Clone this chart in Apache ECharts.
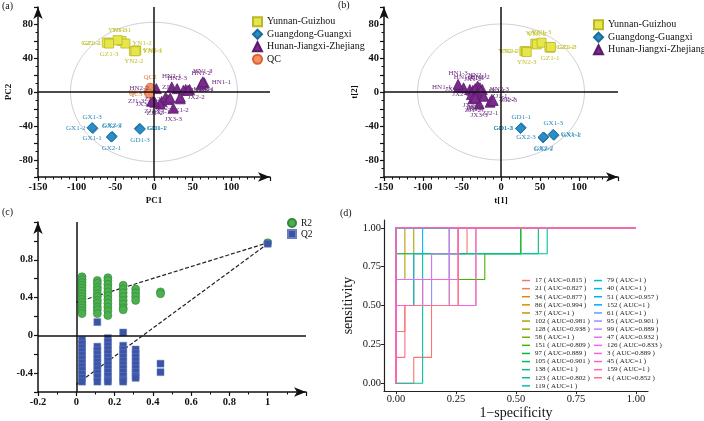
<!DOCTYPE html>
<html><head><meta charset="utf-8">
<script src="https://cdn.jsdelivr.net/npm/echarts@6/dist/echarts.min.js"></script>
<style>html,body{margin:0;padding:0;background:#fff}#c{width:704px;height:421px}</style>
</head><body><div id="c"></div>
<script>
// ================= DATA =================
// Panel (a) PCA scores
const ygNames = ['YN1-1','YN1-2','YN1-3','YN2-1','YN2-2','YN2-3','GZ1-1','GZ1-2','GZ1-3'];
const aYG_PC1 = [-42,-37,-47,-23,-26,-24,-59,-61,-58];
const aYG_PC2 = [60,57,61,49,48,48,58,58,57];
const ggNames = ['GD1-1','GD1-2','GD1-3','GX1-1','GX1-2','GX1-3','GX2-1','GX2-2','GX2-3'];
const aGG_PC1 = [-19,-18,-18,-80,-79,-80,-55,-54,-55];
const aGG_PC2 = [-43,-43,-44,-42,-43,-42,-53,-52,-53];
const hjzNames = ['HN1-1','HN1-2','HN1-3','HN2-1','HN2-2','HN2-3','JX1-1','JX1-2','JX1-3','JX2-1','JX2-2','JX2-3','JX3-1','JX3-2','JX3-3','ZJ1-1','ZJ1-2','ZJ1-3','ZJ2-1','ZJ2-2','ZJ2-3'];
const aHJZ_PC1 = [65,61,63,23,3,30,41,34,38,46,34,44,10,8,25,-2,1,-3,15,18,21];
const aHJZ_PC2 = [11,9,12,6,4,4,3,-8,2,3,-6,2,-11,-14,-19,-10,-12,-11,-6,-9,-7];
const qcNames = ['QC1','QC2','QC3'];
const aQC_PC1 = [-7,-5,-6];
const aQC_PC2 = [0,5,-2];

// Panel (b) OPLS-DA scores
const bYG_t1 = [44,46,52,30,32,33,63,62,64];
const bYG_t2 = [57,56,58,48,48,47,52,53,53];
const bGG_t1 = [26,25,25,67,68,67,54,55,54];
const bGG_t2 = [-42,-43,-43,-50,-51,-50,-54,-53,-53];
const bHJZ_t1 = [-54,-48,-55,-30,-27,-24,-40,-36,-33,-26,-31,-38,-32,-34,-28,-22,-36,-33,-14,-12,-10];
const bHJZ_t2 = [6,5,9,7,5,3,3,2,4,1,-2,-3,-5,-6,-14,-5,-8,-7,-12,-9,-10];

// Panel (c) permutation test
const permCorr = [0.03, 0.11, 0.165, 0.245, 0.31, 0.44, 1];
const r2Cols = [
  [0.62,0.59,0.56,0.53,0.50,0.47,0.44,0.41,0.38,0.35,0.32,0.29,0.26,0.23],
  [0.58,0.55,0.51,0.48,0.44,0.41,0.37,0.34,0.30,0.27,0.23],
  [0.61,0.58,0.54,0.50,0.46,0.42,0.38,0.34,0.30,0.26,0.21],
  [0.53,0.49,0.45,0.41,0.37,0.33,0.29,0.27],
  [0.49,0.45,0.41,0.37],
  [0.46,0.44],
  [0.98]
];
const q2Cols = [
  [-0.05,-0.09,-0.13,-0.17,-0.21,-0.25,-0.29,-0.33,-0.37,-0.41,-0.45,-0.49],
  [0.14,-0.12,-0.16,-0.20,-0.24,-0.28,-0.32,-0.36,-0.40,-0.44,-0.49],
  [-0.03,-0.07,-0.11,-0.15,-0.19,-0.23,-0.27,-0.31,-0.35,-0.39,-0.43,-0.47,-0.49],
  [0.03,-0.11,-0.15,-0.19,-0.23,-0.27,-0.31,-0.35,-0.39,-0.43,-0.47,-0.49],
  [-0.15,-0.19,-0.23,-0.27,-0.31,-0.35,-0.39,-0.43,-0.45],
  [-0.30,-0.39],
  [0.97]
];
const r2LineX = [0, 1], r2LineY = [0.35, 0.98];
const q2LineX = [0, 1], q2LineY = [-0.52, 0.97];

// Panel (d) ROC curves
const rocMarkers = ['17','21','34','86','37','102','128','58','151','97','105','138','123','119','79','40','51','152','61','95','99','47','126','3','45','159','4'];
const rocAUC = ['0.815','0.827','0.877','0.994','1','0.981','0.938','1','0.809','0.889','0.901','1','0.802','1','1','1','0.957','1','1','0.901','0.889','0.932','0.833','0.889','1','1','0.852'];
const P = [[0,0,1],[0,1,1]];
const rocCurves = [
  [[0,0.074,0.074,0.148,0.148,0.259,0.259,0.296,0.296,1],[0,0,0.167,0.167,0.5,0.5,0.833,0.833,1,1]],
  [[0,0,0.037,0.037,0.333,0.333,1],[0,0.333,0.333,0.5,0.5,1,1]],
  [[0,0,0.222,0.222,0.259,0.259,1],[0,0.5,0.5,0.833,0.833,1,1]],
  [[0,0,0.037,0.037,1],[0,0.833,0.833,1,1]],
  P,
  [[0,0,0.037,0.037,0.074,0.074,1],[0,0.667,0.667,0.833,0.833,1,1]],
  [[0,0,0.074,0.074,0.222,0.222,1],[0,0.5,0.5,0.833,0.833,1,1]],
  P,
  [[0,0,0.148,0.148,0.37,0.37,0.52,0.52,1],[0,0.5,0.5,0.667,0.667,0.833,0.833,1,1]],
  [[0,0,0.148,0.148,0.52,0.52,1],[0,0.667,0.667,0.833,0.833,1,1]],
  [[0,0,0.593,0.593,1],[0,0.833,0.833,1,1]],
  P,
  [[0,0.111,0.111,0.63,0.63,1],[0,0,0.833,0.833,1,1]],
  P, P, P,
  [[0,0,0.074,0.074,0.111,0.111,1],[0,0.5,0.5,0.833,0.833,1,1]],
  P, P,
  [[0,0,0.148,0.148,0.222,0.222,1],[0,0.5,0.5,0.667,0.667,1,1]],
  [[0,0,0.222,0.222,1],[0,0.5,0.5,1,1]],
  [[0,0,0.148,0.148,0.259,0.259,1],[0,0.667,0.667,0.833,0.833,1,1]],
  [[0,0,0.333,0.333,1],[0,0.5,0.5,1,1]],
  [[0,0,0.111,0.111,0.259,0.259,1],[0,0.5,0.5,0.667,0.667,1,1]],
  P, P,
  [[0,0,0.037,0.037,0.259,0.259,1],[0,0.167,0.167,0.5,0.5,1,1]]
];

// ================= STYLE =================
const SERIF = '"Liberation Serif","Times New Roman",serif';
const ygPosA = ['top','right','top','right','bottom','right','left','left','bottom'];
const ggPosA = ['right','right','bottom','bottom','left','top','bottom','top','top'];
const hjzPosA = ['right','top','top','top','left','top','right','bottom','right','right','right','right','bottom','left','bottom','bottom','bottom','left','bottom','left','top'];
const qcPosA = ['left','top','left'];
const ygPosB = ['top','top','top','left','left','bottom','bottom','right','right'];
const ggPosB = ['top','left','left','right','right','top','bottom','bottom','left'];
const hjzPosB = ['left','top','top','top','top','right','left','top','top','right','left','bottom','bottom','bottom','bottom','right','bottom','bottom','bottom','right','right'];

function hcl(h, c, l) {
  const hr = h * Math.PI / 180;
  const U = c * Math.cos(hr), V = c * Math.sin(hr);
  const Xn = 95.047, Yn = 100, Zn = 108.883;
  const Y = l > 8 ? Yn * Math.pow((l + 16) / 116, 3) : Yn * l / 903.3;
  const den = Xn + 15 * Yn + 3 * Zn;
  const un = 4 * Xn / den, vn = 9 * Yn / den;
  const up = U / (13 * l) + un, vp = V / (13 * l) + vn;
  const X = Y * 9 * up / (4 * vp), Z = Y * (12 - 3 * up - 20 * vp) / (4 * vp);
  const x = X / 100, y = Y / 100, z = Z / 100;
  const r = 3.2404542 * x - 1.5371385 * y - 0.4985314 * z;
  const g = -0.9692660 * x + 1.8760108 * y + 0.0415560 * z;
  const b = 0.0556434 * x - 0.2040259 * y + 1.0572252 * z;
  const gm = t => { t = t <= 0.0031308 ? 12.92 * t : 1.055 * Math.pow(t, 1 / 2.4) - 0.055; return Math.round(Math.max(0, Math.min(1, t)) * 255); };
  return 'rgb(' + gm(r) + ',' + gm(g) + ',' + gm(b) + ')';
}

const GROUPS = {
  'Yunnan-Guizhou': {symbol: 'rect', size: 9, color: '#E6E64A', border: '#B9B928', text: '#C2C22C'},
  'Guangdong-Guangxi': {symbol: 'diamond', size: 10, color: '#2B8DC6', border: '#1B6C9C', text: '#2A8AB6'},
  'Hunan-Jiangxi-Zhejiang': {symbol: 'triangle', size: 10, color: '#7A2B8C', border: '#5B1A6C', text: '#6A2A7C'},
  'QC': {symbol: 'circle', size: 9, color: '#F29068', border: '#E0602A', text: '#D8783E'}
};

function pts(names, xs, ys, pos) {
  return names.map((n, i) => ({name: n, value: [xs[i], ys[i]], label: {position: pos[i]}}));
}
function scatter(name, gi, data) {
  const g = GROUPS[name];
  return {
    type: 'scatter', name, xAxisIndex: gi, yAxisIndex: gi, data,
    symbol: g.symbol, symbolSize: g.size,
    itemStyle: {color: g.color, borderColor: g.border, borderWidth: 0.8, opacity: 1},
    label: {show: true, formatter: '{b}', fontFamily: SERIF, fontSize: 7, color: g.text, distance: 2},
    labelLayout: {hideOverlap: false},
    emphasis: {disabled: true}, z: 3
  };
}
const cross = {
  silent: true, symbol: 'none', label: {show: false}, animation: false,
  lineStyle: {color: '#111', width: 1.5, type: 'solid'},
  data: [{xAxis: 0}, {yAxis: 0}]
};

function axisBase(extra) {
  return Object.assign({
    type: 'value', splitLine: {show: false},
    axisLine: {onZero: false, lineStyle: {color: '#111', width: 1.5}, symbol: ['none', 'arrow'], symbolSize: [7, 12]},
    axisTick: {length: 4, lineStyle: {color: '#111', width: 1.2}},
    axisLabel: {fontFamily: SERIF, fontWeight: 'bold', fontSize: 10.5, color: '#111', margin: 5},
    nameTextStyle: {fontFamily: SERIF, fontWeight: 'bold', fontSize: 9, color: '#111'},
    nameLocation: 'middle'
  }, extra);
}
function pcaX(gi, name) {
  const a = axisBase({gridIndex: gi, min: -150, max: 150, interval: 50, name, nameGap: 19,
    minorTick: {show: true, splitNumber: 5, length: 2.5, lineStyle: {color: '#111'}}});
  a.axisLabel.formatter = v => (v >= 150 ? '' : String(v));
  return a;
}
function pcaY(gi, name) {
  const a = axisBase({gridIndex: gi, min: -100, max: 100, interval: 20, name, nameGap: 25,
    minorTick: {show: true, splitNumber: 2, length: 2.5, lineStyle: {color: '#111'}}});
  a.axisLabel.formatter = v => (Math.abs(v) < 100 && v % 40 === 0 ? String(v) : '');
  return a;
}

const cX = axisBase({gridIndex: 2, min: -0.2, max: 1.2, interval: 0.2,
  minorTick: {show: true, splitNumber: 2, length: 2.5, lineStyle: {color: '#111'}}});
cX.axisLabel.formatter = v => { const k = Math.round(v * 10); return k > 10 ? '' : String(k / 10); };
const cY = axisBase({gridIndex: 2, min: -0.6, max: 1.2, interval: 0.2});
cY.axisLabel.formatter = v => { const k = Math.round(v * 10); return (k % 4 === 0 && k < 12) ? String(k / 10) : ''; };

const rocTicks = [0, 0.25, 0.5, 0.75, 1];
function rocAxis(gi, name, gap) {
  return {
    type: 'value', gridIndex: gi, min: -0.05, max: 1.05, splitLine: {show: false},
    axisLine: {onZero: false, lineStyle: {color: '#222', width: 1.2}},
    axisTick: {length: 3, customValues: rocTicks, lineStyle: {color: '#222', width: 1}},
    axisLabel: {customValues: rocTicks, formatter: v => Number(v).toFixed(2), fontFamily: SERIF, fontSize: 10.5, color: '#111', margin: 3},
    name, nameLocation: 'middle', nameGap: gap,
    nameTextStyle: {fontFamily: SERIF, fontSize: 14, color: '#111'}
  };
}

// ================= BUILD =================
const series = [];
const sYGa = scatter('Yunnan-Guizhou', 0, pts(ygNames, aYG_PC1, aYG_PC2, ygPosA));
sYGa.markLine = cross;
series.push(sYGa,
  scatter('Guangdong-Guangxi', 0, pts(ggNames, aGG_PC1, aGG_PC2, ggPosA)),
  scatter('Hunan-Jiangxi-Zhejiang', 0, pts(hjzNames, aHJZ_PC1, aHJZ_PC2, hjzPosA)),
  scatter('QC', 0, pts(qcNames, aQC_PC1, aQC_PC2, qcPosA)));
const sYGb = scatter('Yunnan-Guizhou', 1, pts(ygNames, bYG_t1, bYG_t2, ygPosB));
sYGb.markLine = cross;
series.push(sYGb,
  scatter('Guangdong-Guangxi', 1, pts(ggNames, bGG_t1, bGG_t2, ggPosB)),
  scatter('Hunan-Jiangxi-Zhejiang', 1, pts(hjzNames, bHJZ_t1, bHJZ_t2, hjzPosB)));

const r2Data = [], q2Data = [];
permCorr.forEach((x, i) => { r2Cols[i].forEach(v => r2Data.push([x, v])); q2Data.push(...q2Cols[i].map(v => [x, v])); });
series.push({
  type: 'line', name: 'R2 fit', xAxisIndex: 2, yAxisIndex: 2, data: r2LineX.map((x, i) => [x, r2LineY[i]]),
  symbol: 'none', lineStyle: {color: '#222', width: 1.2, type: [4, 2]}, silent: true, z: 1, markLine: cross
}, {
  type: 'line', name: 'Q2 fit', xAxisIndex: 2, yAxisIndex: 2, data: q2LineX.map((x, i) => [x, q2LineY[i]]),
  symbol: 'none', lineStyle: {color: '#222', width: 1.2, type: [4, 2]}, silent: true, z: 1
}, {
  type: 'scatter', name: 'R2', xAxisIndex: 2, yAxisIndex: 2, data: r2Data, symbol: 'circle', symbolSize: 8,
  itemStyle: {color: '#4CAF50', borderColor: '#2F8A33', borderWidth: 0.6, opacity: 1}, z: 3
}, {
  type: 'scatter', name: 'Q2', xAxisIndex: 2, yAxisIndex: 2, data: q2Data, symbol: 'rect', symbolSize: 7,
  itemStyle: {color: '#3A54A6', borderColor: '#6A7EC0', borderWidth: 0.5, opacity: 1}, z: 3
});

const rocNames = rocMarkers.map((m, i) => m + ' ( AUC=' + rocAUC[i] + ' )');
rocMarkers.forEach((m, i) => {
  const col = hcl(15 + i * 360 / 27, 100, 65);
  const c = rocCurves[i];
  series.push({
    type: 'line', name: rocNames[i], xAxisIndex: 3, yAxisIndex: 3,
    data: c[0].map((x, k) => [x, c[1][k]]), symbol: 'none', showSymbol: false,
    lineStyle: {color: col, width: 1.1}, itemStyle: {color: col}, silent: true, z: 2
  });
});

const legText = {fontFamily: SERIF, fontSize: 10, color: '#111'};
const option = {
  animation: false,
  backgroundColor: '#fff',
  grid: [
    {left: 38, top: 7, width: 232, height: 170},
    {left: 384, top: 7, width: 234, height: 170},
    {left: 38, top: 222, width: 268, height: 170},
    {left: 384, top: 220, width: 264, height: 174}
  ],
  xAxis: [pcaX(0, 'PC1'), pcaX(1, 't[1]'), cX, rocAxis(3, '1\u2212specificity', 12)],
  yAxis: [pcaY(0, 'PC2'), pcaY(1, 't[2]'), cY, rocAxis(3, 'sensitivity', 29)],
  legend: [
    {orient: 'vertical', left: 252, top: 16, padding: 0, itemWidth: 9, itemHeight: 9, itemGap: 1, textStyle: Object.assign({lineHeight: 11.5}, legText),
     data: [{name: 'Yunnan-Guizhou', icon: 'rect'}, {name: 'Guangdong-Guangxi', icon: 'diamond'}, {name: 'Hunan-Jiangxi-Zhejiang', icon: 'triangle'}, {name: 'QC', icon: 'circle'}]},
    {orient: 'vertical', left: 593, top: 19, padding: 0, itemWidth: 9, itemHeight: 9, itemGap: 1, textStyle: Object.assign({lineHeight: 11.5}, legText),
     data: [{name: 'Yunnan-Guizhou', icon: 'rect'}, {name: 'Guangdong-Guangxi', icon: 'diamond'}, {name: 'Hunan-Jiangxi-Zhejiang', icon: 'triangle'}]},
    {orient: 'vertical', left: 287, top: 218, padding: 0, itemWidth: 8, itemHeight: 8, itemGap: 1, textStyle: Object.assign({lineHeight: 10}, legText, {fontSize: 9.5}),
     data: [{name: 'R2', icon: 'circle'}, {name: 'Q2', icon: 'rect'}]},
    {orient: 'vertical', left: 522, top: 276.5, padding: 0, itemWidth: 8, itemHeight: 1.5, itemGap: 0, icon: 'rect',
     textStyle: {fontFamily: SERIF, fontSize: 7, color: '#222', lineHeight: 8.1}, data: rocNames.slice(0, 14)},
    {orient: 'vertical', left: 594, top: 276.5, padding: 0, itemWidth: 8, itemHeight: 1.5, itemGap: 0, icon: 'rect',
     textStyle: {fontFamily: SERIF, fontSize: 7, color: '#222', lineHeight: 8.1}, data: rocNames.slice(14)}
  ],
  series
};

const chart = echarts.init(document.getElementById('c'), null, {renderer: 'canvas'});
chart.setOption(option);

// confidence ellipses and panel tags
const ellipseR = [[108, 82], [107, 80]];
const graphic = [];
ellipseR.forEach((r, gi) => {
  const p = [];
  for (let i = 0; i <= 144; i++) {
    const t = i / 144 * 2 * Math.PI;
    p.push(chart.convertToPixel({gridIndex: gi}, [r[0] * Math.cos(t), r[1] * Math.sin(t)]));
  }
  graphic.push({type: 'polyline', shape: {points: p}, style: {stroke: '#CFCFDA', lineWidth: 1, fill: null}, z: 0, silent: true});
});
[['(a)', 2, 1], ['(b)', 338, 0], ['(c)', 2, 207], ['(d)', 340, 208]].forEach(t => {
  graphic.push({type: 'text', left: t[1], top: t[2], style: {text: t[0], font: '10px ' + SERIF, fill: '#111'}, silent: true});
});
chart.setOption({graphic});
</script></body></html>
